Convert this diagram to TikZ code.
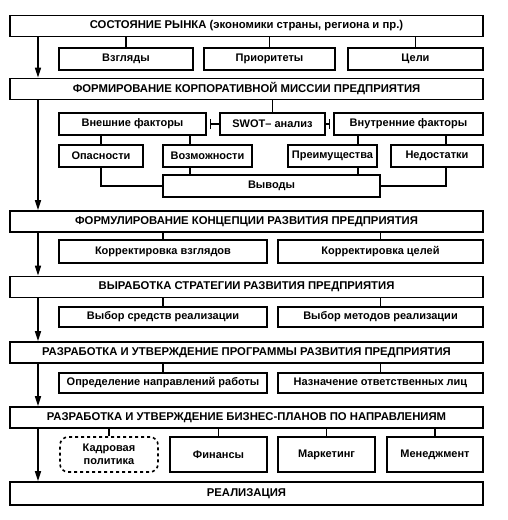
\documentclass[tikz,border=0pt]{standalone}
\usepackage{fontspec}
\setmainfont{Liberation Sans}
\usetikzlibrary{arrows.meta, positioning}

\begin{document}
\begin{tikzpicture}[
  x=1pt, y=-1pt,
  stage/.style={draw, line width=1.6pt, minimum width=473pt, minimum height=21pt,
                inner sep=0pt, font=\bfseries\fontsize{11.3}{13}\selectfont},
  sub/.style={draw, line width=1.6pt, minimum height=22pt, inner sep=0pt,
              align=center, font=\bfseries\fontsize{11}{13.5}\selectfont},
  link/.style={line width=1.2pt},
  flow/.style={line width=1.5pt, -{Triangle[length=10pt, width=6pt]}},
  tie/.style={line width=1.2pt}
]
\useasboundingbox (0,0) rectangle (507,520);
\coordinate (spine) at (38,0);

% main stages
\node[stage] (market)   at (246.5,26)  {СОСТОЯНИЕ РЫНКА (экономики страны, региона и пр.)};
\node[stage] (mission)  at (246.5,89)  {ФОРМИРОВАНИЕ КОРПОРАТИВНОЙ МИССИИ ПРЕДПРИЯТИЯ};
\node[stage] (concept)  at (246.5,221.5) {ФОРМУЛИРОВАНИЕ КОНЦЕПЦИИ РАЗВИТИЯ ПРЕДПРИЯТИЯ};
\node[stage] (strategy) at (246.5,287) {ВЫРАБОТКА СТРАТЕГИИ РАЗВИТИЯ ПРЕДПРИЯТИЯ};
\node[stage] (program)  at (246.5,352.5) {РАЗРАБОТКА И УТВЕРЖДЕНИЕ ПРОГРАММЫ РАЗВИТИЯ ПРЕДПРИЯТИЯ};
\node[stage] (plans)    at (246.5,417.5) {РАЗРАБОТКА И УТВЕРЖДЕНИЕ БИЗНЕС-ПЛАНОВ ПО НАПРАВЛЕНИЯМ};
\node[stage, minimum height=23pt] (realize) at (246.5,493.5) {РЕАЛИЗАЦИЯ};

% market
\node[sub, minimum width=134pt] (views) at (126,59)   {Взгляды};
\node[sub, minimum width=131pt] (prior) at (269.5,59) {Приоритеты};
\node[sub, minimum width=135pt] (goals) at (415.5,59) {Цели};

% mission
\node[sub, minimum width=147pt] (extf) at (132.5,124) {Внешние факторы};
\node[sub, minimum width=105pt] (swot) at (272.5,124) {SWOT– анализ};
\node[sub, minimum width=149pt] (intf) at (408.5,124) {Внутренние факторы};
\node[sub, minimum width=84pt] (threat)   at (101,156)   {Опасности};
\node[sub, minimum width=89pt] (opport)   at (207.5,156) {Возможности};
\node[sub, minimum width=89pt] (strength) at (332.5,156) {Преимущества};
\node[sub, minimum width=92pt] (weak)     at (437,156)   {Недостатки};
\node[sub, minimum width=217pt] (concl)   at (271.5,186) {Выводы};

% concept
\node[sub, minimum width=208pt, minimum height=23pt] (corrview) at (163,251.5)   {Корректировка взглядов};
\node[sub, minimum width=205pt, minimum height=23pt] (corrgoal) at (380.5,251.5) {Корректировка целей};

% strategy
\node[sub, minimum width=208pt, minimum height=20pt] (means)   at (163,317)   {Выбор средств реализации};
\node[sub, minimum width=205pt, minimum height=20pt] (methods) at (380.5,317) {Выбор методов реализации};

% program
\node[sub, minimum width=208pt, minimum height=20pt] (directions) at (163,383)   {Определение направлений работы};
\node[sub, minimum width=205pt, minimum height=20pt] (persons)    at (380.5,383) {Назначение ответственных лиц};

% plans
\node[sub, dashed, rounded corners=8pt, minimum width=98pt, minimum height=35pt] (staff) at (109,454.5) {Кадровая\\политика};
\node[sub, minimum width=97pt, minimum height=35pt] (finance)   at (218.5,454.5) {Финансы};
\node[sub, minimum width=97pt, minimum height=35pt] (marketing) at (326.5,454.5) {Маркетинг};
\node[sub, minimum width=96pt, minimum height=35pt] (mgmt)      at (435,454.5)   {Менеджмент};

% main flow
\foreach \a/\b in {market/mission, mission/concept, concept/strategy,
                   strategy/program, program/plans, plans/realize}
  \draw[flow] (\a.south -| spine) -- (\b.north -| spine);

% links to sub-boxes
\foreach \n in {views, prior, goals}
  \draw[link] (\n.north) -- (\n.north |- market.south);
\draw[link] (swot.north) -- (swot.north |- mission.south);
\draw[tie, {Bar[width=10pt]}-] ([xshift=3pt]extf.east) -- (swot.west);
\draw[tie, -{Bar[width=10pt]}] (swot.east) -- ([xshift=-3pt]intf.west);
\coordinate (a) at (190,0);
\coordinate (b) at (358,0);
\coordinate (c) at (446,0);
\draw[link] (threat.north) -- (threat.north |- extf.south);
\draw[link] (opport.north -| a) -- (extf.south -| a);
\draw[link] (strength.north -| b) -- (intf.south -| b);
\draw[link] (weak.north -| c) -- (intf.south -| c);
\draw[link] (threat.south) |- (concl.west);
\draw[link] (opport.south -| a) -- (concl.north -| a);
\draw[link] (strength.south -| b) -- (concl.north -| b);
\draw[link] (weak.south -| c) |- (concl.east);
\foreach \n in {corrview, corrgoal}
  \draw[link] (\n.north) -- (\n.north |- concept.south);
\foreach \n in {means, methods}
  \draw[link] (\n.north) -- (\n.north |- strategy.south);
\foreach \n in {directions, persons}
  \draw[link] (\n.north) -- (\n.north |- program.south);
\foreach \n in {staff, finance, marketing, mgmt}
  \draw[link] (\n.north) -- (\n.north |- plans.south);
\end{tikzpicture}
\end{document}
